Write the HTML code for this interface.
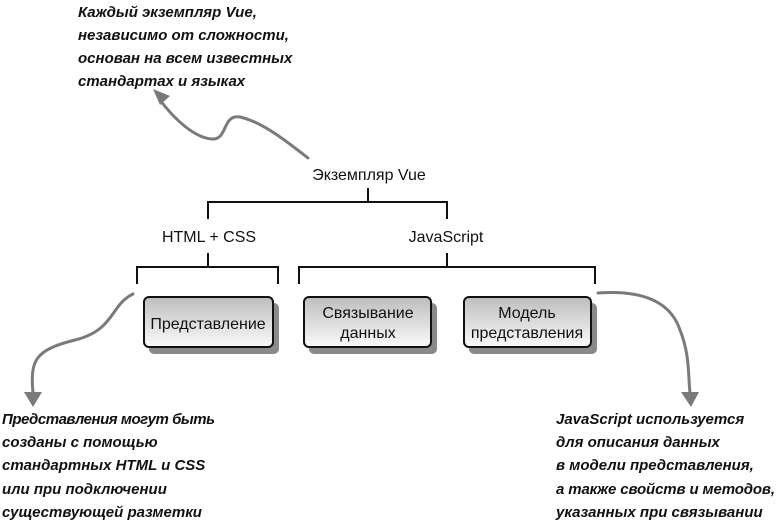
<!DOCTYPE html>
<html><head><meta charset="utf-8"><style>
html,body{margin:0;padding:0;background:#fff;width:778px;height:523px;overflow:hidden}
svg{display:block}
.h{font-family:"Liberation Sans",sans-serif;font-size:15px;font-weight:bold;font-style:italic;fill:#111}
.t{font-family:"Liberation Sans",sans-serif;font-size:16px;fill:#111}
</style></head><body>
<svg width="778" height="523" viewBox="0 0 778 523">
<defs>
<linearGradient id="g" x1="0" y1="0" x2="0" y2="1">
<stop offset="0" stop-color="#bdbdbd"/><stop offset="1" stop-color="#fafafa"/>
</linearGradient>
</defs>
<g class="h">
<text x="78" y="17">Каждый экземпляр Vue,</text>
<text x="78" y="40">независимо от сложности,</text>
<text x="78" y="63">основан на всем известных</text>
<text x="78" y="86">стандартах и языках</text>
<text x="2" y="424" textLength="213">Представления могут быть</text>
<text x="2" y="447">созданы с помощью</text>
<text x="2" y="470">стандартных HTML и CSS</text>
<text x="2" y="494">или при подключении</text>
<text x="2" y="517">существующей разметки</text>
<text x="556" y="424">JavaScript используется</text>
<text x="556" y="447">для описания данных</text>
<text x="556" y="470">в модели представления,</text>
<text x="556" y="494" textLength="219">а также свойств и методов,</text>
<text x="556" y="517">указанных при связывании</text>
</g>
<g fill="none" stroke="#7a7a7a" stroke-width="3" stroke-linecap="round">
<path d="M308 158 C285 140 262 122 240 117 C222 114 228 140 212 139 C195 138 175 120 160 100"/>
<path d="M133 294 C110 305 115 330 75 340 C35 350 30 360 33 393"/>
<path d="M598 293 C640 290 670 300 680 330 C690 355 688 375 690 393"/>
</g>
<g fill="#7a7a7a">
<polygon points="153,89 170,96 160,105"/>
<polygon points="24,392 42,392 33,407"/>
<polygon points="681,392 699,392 691,407"/>
</g>
<g class="t" text-anchor="middle">
<text x="369" y="180">Экземпляр Vue</text>
<text x="209" y="242">HTML + CSS</text>
<text x="446" y="242">JavaScript</text>
</g>
<g fill="none" stroke="#111" stroke-width="2">
<path d="M368 188V202M208 219V202H447V219"/>
<path d="M208 253V267M137 284V267H278V284"/>
<path d="M447 253V267M299 284V267H595V284"/>
</g>
<g>
<rect x="149" y="303" width="130" height="51" rx="5" fill="#8a8a8a"/>
<rect x="144" y="297" width="129" height="50" rx="5" fill="url(#g)" stroke="#111" stroke-width="2"/>
<rect x="309" y="303" width="128" height="51" rx="5" fill="#8a8a8a"/>
<rect x="304" y="297" width="127" height="50" rx="5" fill="url(#g)" stroke="#111" stroke-width="2"/>
<rect x="469" y="303" width="128" height="51" rx="5" fill="#8a8a8a"/>
<rect x="464" y="297" width="127" height="50" rx="5" fill="url(#g)" stroke="#111" stroke-width="2"/>
</g>
<g class="t" text-anchor="middle">
<text x="208" y="329">Представление</text>
<text x="368" y="318">Связывание</text>
<text x="368" y="338">данных</text>
<text x="527" y="318">Модель</text>
<text x="527" y="338">представления</text>
</g>
</svg>
</body></html>
